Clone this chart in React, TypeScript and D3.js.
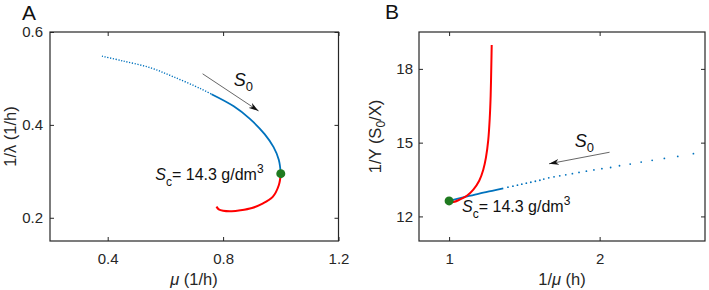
import React, { useEffect, useRef } from "react";
import * as d3 from "d3";

// Panel A: 1/lambda against mu
const aTicksX = [0.4, 0.8, 1.2];
const aTicksY = [0.2, 0.4, 0.6];
const aBlueDotX = [0.38, 0.45, 0.548, 0.63, 0.722, 0.76];
const aBlueDotY = [0.548, 0.538, 0.523, 0.503, 0.478, 0.466];
const aBlueX = [0.76, 0.837, 0.893, 0.944, 0.975, 0.993, 1.0];
const aBlueY = [0.466, 0.44, 0.413, 0.38, 0.352, 0.325, 0.295];
const aRedX = [1.0, 0.993, 0.972, 0.935, 0.9, 0.86, 0.83, 0.8, 0.785, 0.777];
const aRedY = [0.295, 0.27, 0.245, 0.23, 0.221, 0.216, 0.214, 0.215, 0.218, 0.224];

// Panel B: 1/Y against 1/mu
const bTicksX = [1, 2];
const bTicksY = [12, 15, 18];
const bBlueX = [1.0, 1.1, 1.2, 1.3, 1.36];
const bBlueY = [12.63, 12.78, 12.93, 13.06, 13.14];
const bDotX = [1.391, 1.424, 1.454, 1.483, 1.513, 1.543, 1.573, 1.603, 1.629, 1.662, 1.697, 1.735, 1.775,
  1.819, 1.863, 1.912, 1.962, 2.015, 2.073, 2.132, 2.203, 2.276, 2.349, 2.43, 2.519, 2.623];
const bDotY = [13.19, 13.23, 13.27, 13.31, 13.35, 13.39, 13.43, 13.47, 13.52, 13.57, 13.61, 13.65, 13.69,
  13.74, 13.79, 13.84, 13.89, 13.94, 13.99, 14.06, 14.13, 14.21, 14.28, 14.36, 14.44, 14.55];
const bRedX = [1.0, 1.03, 1.073, 1.12, 1.161, 1.2, 1.227, 1.245, 1.26, 1.27, 1.276, 1.28, 1.283];
const bRedY = [12.63, 12.59, 12.69, 12.85, 13.09, 13.45, 13.9, 14.4, 15.1, 16.0, 16.9, 18.0, 18.97];

const critical = { a: [1.0, 0.295], b: [1.0, 12.63] };

const ink = "#262626";
const blue = "#0072BD";
const red = "#FF0000";
const green = "#1f7a1f";
const font = "'Liberation Sans', Arial, sans-serif";

const zip = (xs: number[], ys: number[]) => xs.map((x, i) => [x, ys[i]] as [number, number]);

const App = () => {
  const ref = useRef<SVGSVGElement>(null);

  useEffect(() => {
    const svg = d3.select(ref.current);
    svg.selectAll("*").remove();

    svg.append("defs").append("marker")
      .attr("id", "head")
      .attr("viewBox", "0 0 10 6")
      .attr("refX", 10).attr("refY", 3)
      .attr("markerWidth", 10).attr("markerHeight", 6)
      .attr("markerUnits", "userSpaceOnUse")
      .attr("orient", "auto")
      .append("path")
      .attr("d", "M0,0 L10,3 L0,6 L3,3 Z")
      .attr("fill", "#111");

    const drawFrame = (g, x, y, ticksX, ticksY, fmtX, fmtY, padY) => {
      const [x0, x1] = x.range();
      const [y0, y1] = y.range();
      const bottom = g.append("g").attr("transform", `translate(0,${y0})`)
        .call(d3.axisBottom(x).tickValues(ticksX).tickSize(-4).tickPadding(12).tickFormat(fmtX));
      const left = g.append("g").attr("transform", `translate(${x0},0)`)
        .call(d3.axisLeft(y).tickValues(ticksY).tickSize(-4).tickPadding(padY).tickFormat(fmtY));
      const top = g.append("g").attr("transform", `translate(0,${y1})`)
        .call(d3.axisTop(x).tickValues(ticksX).tickSize(-4).tickFormat(() => ""));
      const right = g.append("g").attr("transform", `translate(${x1},0)`)
        .call(d3.axisRight(y).tickValues(ticksY).tickSize(-4).tickFormat(() => ""));
      [bottom, left, top, right].forEach(a => {
        a.select(".domain").remove();
        a.selectAll("line").attr("stroke", ink).attr("stroke-width", 1);
        a.selectAll("text").attr("fill", ink).style("font-family", font).style("font-size", "15px");
      });
      g.append("rect")
        .attr("x", x0).attr("y", y1)
        .attr("width", x1 - x0).attr("height", y0 - y1)
        .attr("fill", "none").attr("stroke", ink).attr("stroke-width", 1.2);
    };

    const addArrow = (g, x, y, from, to) => {
      g.append("line")
        .attr("x1", x(from[0])).attr("y1", y(from[1]))
        .attr("x2", x(to[0])).attr("y2", y(to[1]))
        .attr("stroke", "#555").attr("stroke-width", 0.9)
        .attr("marker-end", "url(#head)");
    };

    const addS0 = (g, px, py) => {
      const t = g.append("text").attr("x", px).attr("y", py)
        .attr("fill", "#111").style("font-family", font).style("font-size", "18px");
      t.append("tspan").attr("font-style", "italic").text("S");
      t.append("tspan").attr("dy", 5).style("font-size", "13px").text("0");
    };

    const addSc = (g, px, py) => {
      const t = g.append("text").attr("x", px).attr("y", py)
        .attr("fill", "#111").style("font-family", font).style("font-size", "16px");
      t.append("tspan").attr("font-style", "italic").text("S");
      t.append("tspan").attr("dy", 6).style("font-size", "12px").text("c");
      t.append("tspan").attr("dy", -6).text("= 14.3 g/dm");
      t.append("tspan").attr("dy", -7).style("font-size", "12px").text("3");
    };

    // ---- panel A ----
    {
      const x = d3.scaleLinear().domain([0.2, 1.2]).range([50, 338.5]);
      const y = d3.scaleLinear().domain([0.15, 0.6]).range([241, 32]);
      const g = svg.append("g");
      const line = d3.line().x(d => x(d[0])).y(d => y(d[1])).curve(d3.curveCatmullRom.alpha(0.5));

      drawFrame(g, x, y, aTicksX, aTicksY, d3.format(".1f"), d3.format(".1f"), 7);

      g.append("path").attr("d", line(zip(aBlueDotX, aBlueDotY)))
        .attr("fill", "none").attr("stroke", blue).attr("stroke-width", 1.4)
        .attr("stroke-dasharray", "1.2 1.6");
      g.append("path").attr("d", line(zip(aBlueX, aBlueY)))
        .attr("fill", "none").attr("stroke", blue).attr("stroke-width", 1.8);
      g.append("path").attr("d", line(zip(aRedX, aRedY)))
        .attr("fill", "none").attr("stroke", red).attr("stroke-width", 2);
      g.append("circle").attr("cx", x(critical.a[0])).attr("cy", y(critical.a[1]))
        .attr("r", 4.5).attr("fill", green);

      addArrow(g, x, y, [0.729, 0.51], [0.923, 0.43]);
      addS0(g, x(0.837), y(0.484));
      addSc(g, x(0.565), y(0.281));

      g.append("text").attr("x", 22).attr("y", 20).attr("fill", "#111")
        .style("font-family", font).style("font-size", "21px").text("A");

      const xl = g.append("text").attr("x", 194).attr("y", 285).attr("text-anchor", "middle")
        .attr("fill", ink).style("font-family", font).style("font-size", "16.5px");
      xl.append("tspan").attr("font-style", "italic").text("μ");
      xl.append("tspan").text(" (1/h)");

      g.append("text").attr("transform", "translate(16,136.5) rotate(-90)").attr("text-anchor", "middle")
        .attr("fill", ink).style("font-family", font).style("font-size", "16.5px").text("1/λ (1/h)");
    }

    // ---- panel B ----
    {
      const x = d3.scaleLinear().domain([0.8, 2.7]).range([419, 705]);
      const y = d3.scaleLinear().domain([11, 19.5]).range([241, 32]);
      const g = svg.append("g");
      const line = d3.line().x(d => x(d[0])).y(d => y(d[1])).curve(d3.curveCatmullRom.alpha(0.5));

      drawFrame(g, x, y, bTicksX, bTicksY, d3.format("d"), d3.format("d"), 6);

      g.append("path").attr("d", line(zip(bBlueX, bBlueY)))
        .attr("fill", "none").attr("stroke", blue).attr("stroke-width", 1.8);
      g.selectAll(".bdot").data(zip(bDotX, bDotY)).enter().append("circle")
        .attr("class", "bdot")
        .attr("cx", d => x(d[0])).attr("cy", d => y(d[1]))
        .attr("r", 0.9).attr("fill", blue);
      g.append("path").attr("d", line(zip(bRedX, bRedY)))
        .attr("fill", "none").attr("stroke", red).attr("stroke-width", 2);
      g.append("circle").attr("cx", x(critical.b[0])).attr("cy", y(critical.b[1]))
        .attr("r", 4.5).attr("fill", green);

      addArrow(g, x, y, [2.066, 14.61], [1.664, 14.14]);
      addS0(g, x(1.834), y(14.84));
      addSc(g, x(1.086), y(12.16));

      g.append("text").attr("x", 385).attr("y", 19).attr("fill", "#111")
        .style("font-family", font).style("font-size", "21px").text("B");

      const xl = g.append("text").attr("x", 562).attr("y", 285).attr("text-anchor", "middle")
        .attr("fill", ink).style("font-family", font).style("font-size", "16.5px");
      xl.append("tspan").text("1/");
      xl.append("tspan").attr("font-style", "italic").text("μ");
      xl.append("tspan").text(" (h)");

      const yl = g.append("text").attr("transform", "translate(381,136.5) rotate(-90)").attr("text-anchor", "middle")
        .attr("fill", ink).style("font-family", font).style("font-size", "16.5px");
      yl.append("tspan").text("1/Y (S");
      yl.append("tspan").attr("dy", 4).style("font-size", "12px").text("0");
      yl.append("tspan").attr("dy", -4).text("/X)");
    }
  }, []);

  return (
    <svg ref={ref} width={709} height={290}
      style={{ position: "absolute", left: 0, top: 0, background: "#fff" }} />
  );
};

export default App;
